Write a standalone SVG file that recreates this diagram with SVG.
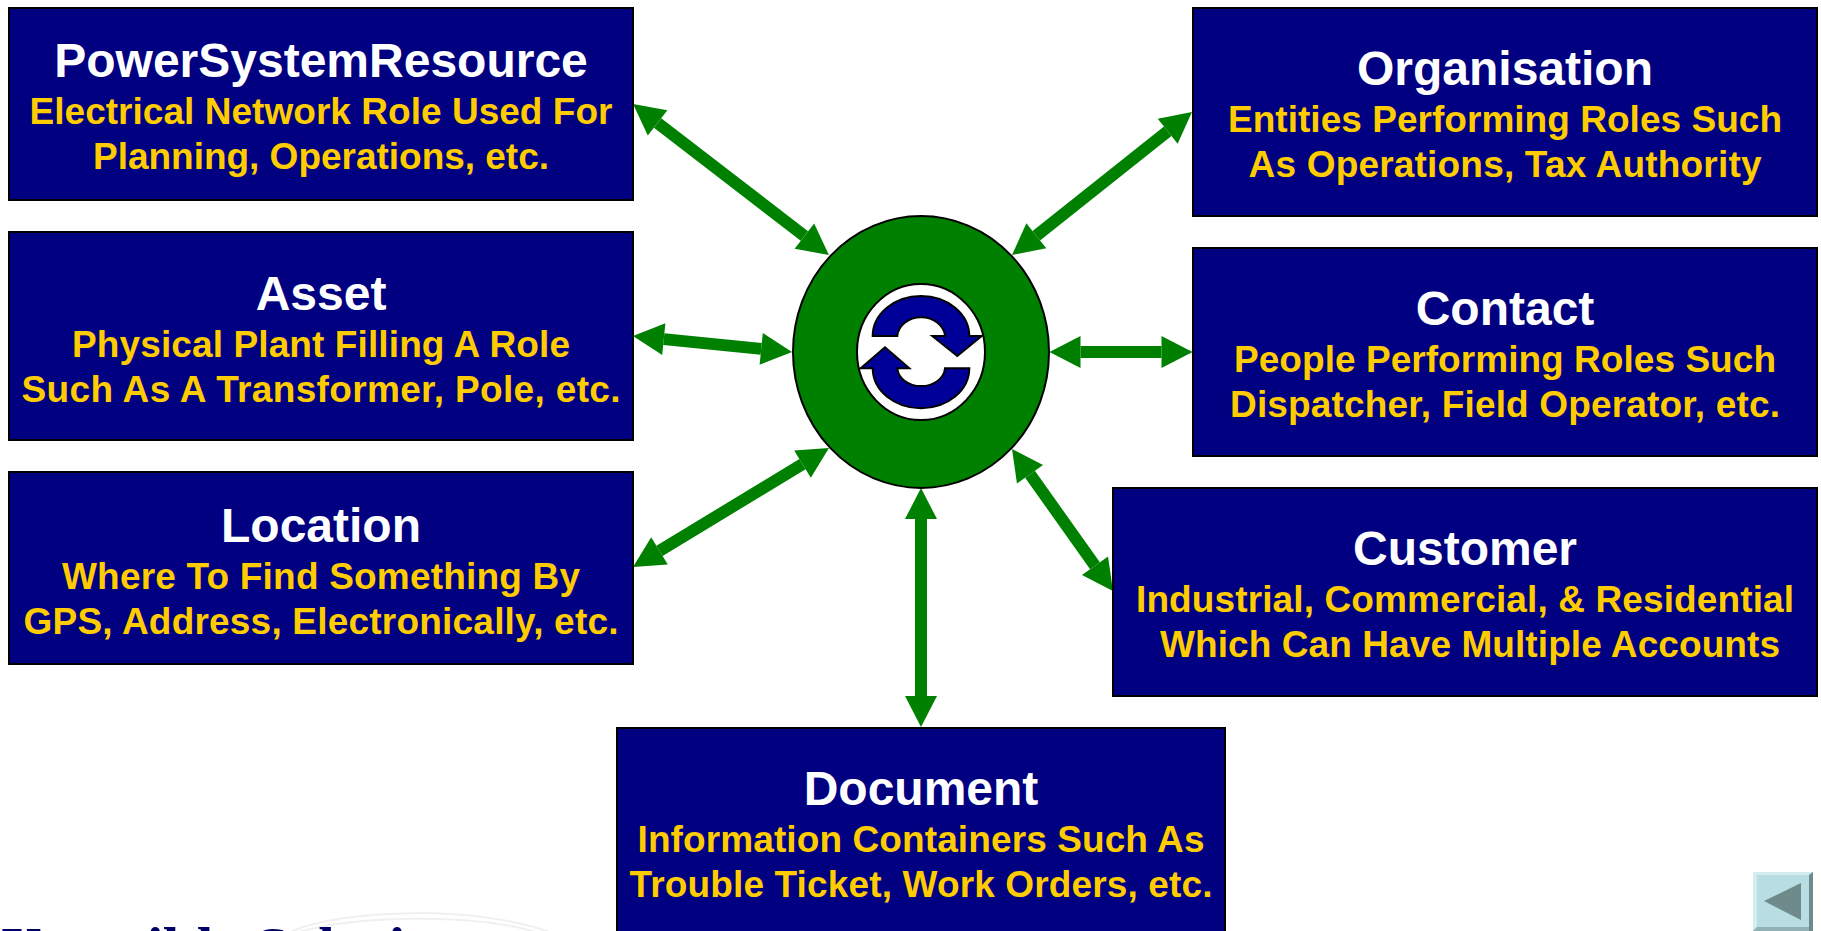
<svg xmlns="http://www.w3.org/2000/svg" width="1821" height="931" viewBox="0 0 1821 931">
<style>
.box{fill:#000080;stroke:#000;stroke-width:2}
.t{font-family:"Liberation Sans",Arial,sans-serif;font-weight:700;text-anchor:middle}
.h{fill:#fff;font-size:48px}
.s{fill:#fc0;font-size:37px}
.c{stroke:#008000;stroke-width:12;fill:none;marker-start:url(#ah);marker-end:url(#ah)}
.ic{fill:#000099;stroke:#000;stroke-width:2}
.sw{fill:none;stroke:#f0f0f0;stroke-width:2}
</style>
<defs>
<marker id="ah" markerUnits="userSpaceOnUse" markerWidth="33" markerHeight="34" viewBox="0 -17 33 34" refX="0" refY="0" orient="auto-start-reverse" overflow="visible"><path d="M0,-16L31,0L0,16z" fill="#008000"/></marker>
</defs>
<rect width="1821" height="931" fill="#fff"/>
<g id="logo">
<path class="sw" d="M288,933C340,908 480,905 552,933"/>
<path class="sw" d="M296,933C350,916 470,912 540,933"/>
<text x="0" y="968" font-family="Liberation Serif,serif" font-weight="700" font-size="60" fill="#000066">Xtensible Solutions</text>
</g>
<g id="connectors">
<line class="c" x1="657.6" y1="122.9" x2="804.4" y2="236.1"/>
<line class="c" x1="1167.7" y1="131.3" x2="1036.3" y2="235.7"/>
<line class="c" x1="663.8" y1="339.1" x2="761.2" y2="348.9"/>
<line class="c" x1="1080.5" y1="352" x2="1161.5" y2="352"/>
<line class="c" x1="659.5" y1="550.9" x2="802.5" y2="464.1"/>
<line class="c" x1="1030" y1="474.3" x2="1095" y2="565.7"/>
<line class="c" x1="921" y1="519" x2="921" y2="696"/>
</g>
<g id="hub">
<ellipse cx="921" cy="352" rx="128" ry="136" fill="#008000" stroke="#000" stroke-width="2"/>
<ellipse cx="921" cy="352" rx="64" ry="68" fill="#fff" stroke="#000" stroke-width="2"/>
<path class="ic" d="M872.7,336A48.3,40 0 0 1 969.3,336H981.7L957.3,356L932.3,336H945A23.9,20 0 0 0 897.3,336z"/>
<path class="ic" d="M860.7,368.3L885,347.3L909.3,368.3H897.3A23.9,19 0 0 0 945,368.3H969.3A48.3,40 0 0 1 872.7,368.3z"/>
</g>
<g id="node-psr">
<rect class="box" x="9" y="8" width="624" height="192"/>
<text class="t h" x="321" y="77">PowerSystemResource</text>
<text class="t s" x="321" y="124" textLength="583">Electrical Network Role Used For</text>
<text class="t s" x="321" y="169" textLength="456">Planning, Operations, etc.</text>
</g>
<g id="node-asset">
<rect class="box" x="9" y="232" width="624" height="208"/>
<text class="t h" x="321" y="310">Asset</text>
<text class="t s" x="321" y="356.5" textLength="498">Physical Plant Filling A Role</text>
<text class="t s" x="321" y="401.5" textLength="599">Such As A Transformer, Pole, etc.</text>
</g>
<g id="node-location">
<rect class="box" x="9" y="472" width="624" height="192"/>
<text class="t h" x="321" y="542">Location</text>
<text class="t s" x="321" y="588.5" textLength="518">Where To Find Something By</text>
<text class="t s" x="321" y="633.5" textLength="595">GPS, Address, Electronically, etc.</text>
</g>
<g id="node-organisation">
<rect class="box" x="1193" y="8" width="624" height="208"/>
<text class="t h" x="1505" y="85">Organisation</text>
<text class="t s" x="1505" y="132" textLength="554">Entities Performing Roles Such</text>
<text class="t s" x="1505" y="177" textLength="513">As Operations, Tax Authority</text>
</g>
<g id="node-contact">
<rect class="box" x="1193" y="248" width="624" height="208"/>
<text class="t h" x="1505" y="325">Contact</text>
<text class="t s" x="1505" y="372" textLength="542">People Performing Roles Such</text>
<text class="t s" x="1505" y="417" textLength="550">Dispatcher, Field Operator, etc.</text>
</g>
<g id="node-customer">
<rect class="box" x="1113" y="488" width="704" height="208"/>
<text class="t h" x="1465" y="565">Customer</text>
<text class="t s" x="1465" y="612" textLength="658">Industrial, Commercial, &amp; Residential</text>
<text class="t s" x="1470" y="657" textLength="620">Which Can Have Multiple Accounts</text>
</g>
<g id="node-document">
<rect class="box" x="617" y="728" width="608" height="208"/>
<text class="t h" x="921" y="805">Document</text>
<text class="t s" x="921" y="852" textLength="567">Information Containers Such As</text>
<text class="t s" x="921" y="897" textLength="583">Trouble Ticket, Work Orders, etc.</text>
</g>
<g id="nav-back">
<rect x="1753" y="872" width="60" height="59" fill="#b8dde2"/>
<path d="M1753,872H1813L1809,875H1757V927L1753,931z" fill="#d2ecef"/>
<path d="M1813,872V931H1809V875z" fill="#6f8a8c"/>
<path d="M1753,931L1757,927H1809V931z" fill="#92b1b5"/>
<path d="M1764,901L1801,883V920z" fill="#6f8a8a"/>
</g>
</svg>
